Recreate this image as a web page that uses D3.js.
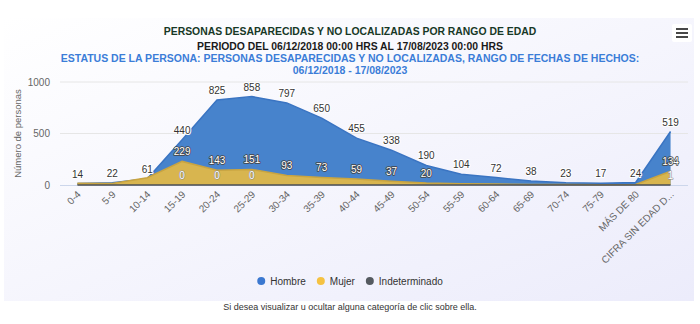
<!DOCTYPE html>
<html>
<head>
<meta charset="utf-8">
<script src="https://cdn.jsdelivr.net/npm/d3@7"></script>
<style>
  body { margin: 0; background: #fff; font-family: "Liberation Sans", Arial, sans-serif; }
  svg { display: block; }
</style>
</head>
<body>
<div id="chart"></div>
<script>
// Data
const categories = ['0-4', '5-9', '10-14', '15-19', '20-24', '25-29', '30-34', '35-39', '40-44',
  '45-49', '50-54', '55-59', '60-64', '65-69', '70-74', '75-79', 'MÁS DE 80', 'CIFRA SIN EDAD DETERMINADA'];
const hombre = [14, 22, 61, 440, 825, 858, 797, 650, 455, 338, 190, 104, 72, 38, 23, 17, 24, 519];
const mujer = [16, 15, 70, 229, 143, 151, 93, 73, 59, 37, 20, 12, 9, 6, 4, 3, 5, 134];
const indeterminado = [0, 0, 0, 0, 0, 0, 0, 0, 0, 0, 0, 0, 0, 0, 0, 0, 0, 1];
const yTicks = [0, 500, 1000];
const seriesNames = ['Hombre', 'Mujer', 'Indeterminado'];
const titles = [
  'PERSONAS DESAPARECIDAS Y NO LOCALIZADAS POR RANGO DE EDAD',
  'PERIODO DEL 06/12/2018 00:00 HRS AL 17/08/2023 00:00 HRS'
];
const subtitles = [
  'ESTATUS DE LA PERSONA: PERSONAS DESAPARECIDAS Y NO LOCALIZADAS, RANGO DE FECHAS DE HECHOS:',
  '06/12/2018 - 17/08/2023'
];

const W = 700, H = 324;
const plot = { left: 60, right: 688, top: 82, bottom: 185 };

const svg = d3.select('#chart').append('svg')
  .attr('width', W).attr('height', H);

// background panel with soft gradient
const defs = svg.append('defs');
const grad = defs.append('linearGradient').attr('id', 'bg')
  .attr('x1', '0').attr('y1', '0').attr('x2', '1').attr('y2', '1');
grad.append('stop').attr('offset', '0%').attr('stop-color', '#ffffff');
grad.append('stop').attr('offset', '100%').attr('stop-color', '#ececfb');
svg.append('rect').attr('x', 4).attr('y', 18).attr('width', 690).attr('height', 283)
  .attr('fill', 'url(#bg)');

// titles
svg.selectAll('.title').data(titles).enter().append('text')
  .attr('x', 350).attr('y', (d, i) => 35 + i * 15)
  .attr('text-anchor', 'middle')
  .attr('font-size', 10.4).attr('font-weight', 'bold')
  .attr('fill', (d, i) => i === 0 ? '#173826' : '#1a1a1a')
  .text(d => d);
svg.selectAll('.subtitle').data(subtitles).enter().append('text')
  .attr('x', 350).attr('y', (d, i) => 62 + i * 11.5)
  .attr('text-anchor', 'middle')
  .attr('font-size', 10.5).attr('font-weight', 'bold')
  .attr('fill', '#3b7dd8')
  .text(d => d);

// menu icon
const menu = svg.append('g').attr('transform', 'translate(672,24)');
menu.append('rect').attr('width', 20).attr('height', 18).attr('rx', 2).attr('fill', '#fff');
[5, 9, 13].forEach(y => menu.append('line')
  .attr('x1', 4).attr('x2', 16).attr('y1', y).attr('y2', y)
  .attr('stroke', '#333').attr('stroke-width', 1.8));

// scales
const x = d3.scaleBand().domain(categories).range([plot.left, plot.right]);
const cx = d => x(d) + x.bandwidth() / 2;
const y = d3.scaleLinear().domain([0, 1000]).range([plot.bottom, plot.top]);

// gridlines
svg.append('g').selectAll('line').data(yTicks.filter(t => t > 0)).enter().append('line')
  .attr('x1', plot.left).attr('x2', plot.right)
  .attr('y1', d => y(d)).attr('y2', d => y(d))
  .attr('stroke', '#e6e6e6').attr('stroke-width', 1);

// y axis
const yAxis = svg.append('g').attr('transform', `translate(${plot.left - 10},0)`)
  .call(d3.axisLeft(y).tickValues(yTicks).tickFormat(d3.format('d')).tickSize(0).tickPadding(0));
yAxis.select('.domain').remove();
yAxis.selectAll('text').attr('font-size', 10).attr('fill', '#666')
  .attr('font-family', '"Liberation Sans", Arial, sans-serif');

svg.append('text')
  .attr('transform', `translate(21,${(plot.top + plot.bottom) / 2}) rotate(-90)`)
  .attr('text-anchor', 'middle').attr('font-size', 9.5).attr('fill', '#666')
  .text('Número de personas');

// x axis line
svg.append('line').attr('x1', plot.left).attr('x2', plot.right)
  .attr('y1', plot.bottom + 0.5).attr('y2', plot.bottom + 0.5)
  .attr('stroke', '#ccd6eb');

// areas
const seriesData = [hombre, mujer, indeterminado];
const fills = ['#4783cc', '#d8b54f', '#50555a'];
const strokes = ['#3a74c2', '#c9a440', '#4b4f55'];
const legendColors = ['#3b78d0', '#f5c242', '#555a60'];

seriesData.forEach((vals, s) => {
  const pts = vals.map((v, i) => [cx(categories[i]), y(v)]);
  const area = d3.area().x(d => d[0]).y0(y(0)).y1(d => d[1]);
  svg.append('path').datum(pts).attr('d', area).attr('fill', fills[s]);
  svg.append('path').datum(pts).attr('d', d3.line()).attr('fill', 'none')
    .attr('stroke', strokes[s]).attr('stroke-width', 1.5);
});

// data labels, hidden when they collide with one already drawn
const placed = [];
const labelStyles = [
  { fill: '#333', stroke: '#fff', sw: 2 },
  { fill: '#fff', stroke: '#444', sw: 1.6 },
  { fill: '#fff', stroke: '#888', sw: 1 }
];
seriesData.forEach((vals, s) => {
  vals.forEach((v, i) => {
    const lx = cx(categories[i]), ly = y(v) - 6;
    const txt = String(v);
    const w = txt.length * 6 + 2, h = 11;
    const box = { x0: lx - w / 2, x1: lx + w / 2, y0: ly - h, y1: ly };
    const hit = placed.some(b => b.x0 < box.x1 && b.x1 > box.x0 && b.y0 < box.y1 && b.y1 > box.y0);
    if (hit) return;
    placed.push(box);
    const st = labelStyles[s];
    svg.append('text').attr('x', lx).attr('y', ly)
      .attr('text-anchor', 'middle').attr('font-size', 10)
      .attr('fill', st.fill).attr('stroke', st.stroke).attr('stroke-width', st.sw)
      .attr('stroke-linejoin', 'round').attr('paint-order', 'stroke')
      .text(txt);
  });
});

// x axis labels, rotated
const shortLabel = d => d.length > 16 ? d.slice(0, 16) + '...' : d;
svg.append('g').selectAll('text').data(categories).enter().append('text')
  .attr('transform', d => `translate(${cx(d) + 4},${plot.bottom + 10}) rotate(-45)`)
  .attr('text-anchor', 'end').attr('font-size', 10).attr('fill', '#666')
  .text(shortLabel);

// legend
const legend = svg.append('g');
let lx = 0;
seriesNames.forEach((name, i) => {
  const g = legend.append('g');
  g.append('circle').attr('cx', 0).attr('cy', 0).attr('r', 4).attr('fill', legendColors[i]);
  const t = g.append('text').attr('x', 9).attr('y', 3.5).attr('font-size', 10)
    .attr('fill', '#333').text(name);
  const w = 9 + t.node().getComputedTextLength();
  g.attr('transform', `translate(${lx},0)`);
  lx += w + 15;
});
const legendW = lx - 15;
legend.attr('transform', `translate(${350 - legendW / 2 + 2},281)`);

// note below the chart
svg.append('text').attr('x', 350).attr('y', 310).attr('text-anchor', 'middle')
  .attr('font-size', 9).attr('fill', '#333')
  .text('Si desea visualizar u ocultar alguna categoría de clic sobre ella.');
</script>
</body>
</html>
